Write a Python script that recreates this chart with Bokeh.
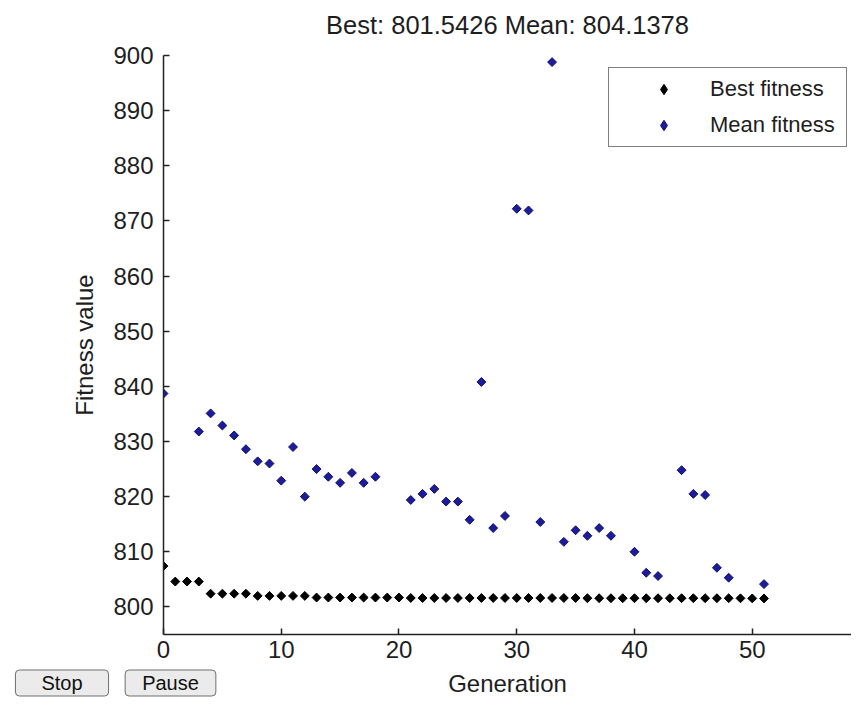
from bokeh.plotting import figure
from bokeh.layouts import column
from bokeh.models import Range1d, FixedTicker, Label, Legend, LegendItem, ColumnDataSource
from bokeh.embed import file_html
from bokeh.resources import INLINE
import numpy as np

nan = float("nan")

generation = list(range(52))

best_fitness = [807.4, 804.6, 804.6, 804.6, 802.4, 802.4, 802.4, 802.4,
                802.0, 802.0, 802.0, 802.0, 802.0,
                801.7, 801.7, 801.7, 801.7, 801.7, 801.7, 801.7, 801.7,
                801.62, 801.62, 801.62, 801.62, 801.62, 801.62, 801.62, 801.62,
                801.62, 801.62, 801.62, 801.62, 801.62, 801.62, 801.62,
                801.58, 801.58, 801.58, 801.58, 801.58, 801.58, 801.58, 801.58,
                801.58, 801.58, 801.58, 801.58, 801.58, 801.56, 801.55, 801.5426]

mean_fitness = [838.7, nan, nan, 831.8, 835.1, 832.9, 831.1, 828.6, 826.4, 826.0,
                822.9, 829.0, 820.0, 825.0, 823.6, 822.5, 824.3, 822.5, 823.6, nan,
                nan, 819.4, 820.5, 821.4, 819.1, 819.1, 815.8, 840.8, 814.3, 816.5,
                872.2, 871.9, 815.4, 898.8, 811.8, 813.9, 812.9, 814.3, 812.9, nan,
                810.0, 806.2, 805.6, nan, 824.8, 820.5, 820.3, 807.1, 805.3, nan,
                nan, 804.1378]

y_ticks = [800, 810, 820, 830, 840, 850, 860, 870, 880, 890, 900]
x_ticks = [0, 10, 20, 30, 40, 50, 60]
series_labels = ["Best fitness", "Mean fitness"]
button_labels = ["Stop", "Pause"]
x_title = "Generation"
y_title = "Fitness value"
chart_title = "Best: %.4f Mean: %.4f" % (best_fitness[-1], mean_fitness[-1])

FONT = "Liberation Sans"
BEST_COLOR = "black"
MEAN_FILL = "#1c1c9a"
MEAN_LINE = "#10106e"
TEXT = "#1e1e1e"

W = 851
H_TOP = 40
H_MAIN = 628
H_STRIP = 29
FRAME_LEFT = 163
FRAME_TOP = 55 - H_TOP          # inside the main figure
FRAME_BOTTOM = 634 - H_TOP      # inside the main figure


def plain_strip(height):
    s = figure(width=W, height=height, output_backend="svg", toolbar_location=None,
               x_range=Range1d(0, W), y_range=Range1d(0, height),
               x_axis_location=None, y_axis_location=None, min_border=0)
    s.outline_line_color = None
    s.grid.visible = False
    s.background_fill_color = "white"
    s.border_fill_color = "white"
    aligned = True
    if "frame_align" in s.properties():
        s.frame_align = False
        aligned = False
    return s, aligned


# ---- title strip
top, top_aligned = plain_strip(H_TOP)
tx = (FRAME_LEFT + W) / 2 - (FRAME_LEFT if top_aligned else 0)
top.add_layout(Label(x=tx, y=H_TOP - 24.5, x_units="screen", y_units="screen",
                     text=chart_title, text_align="center", text_baseline="middle",
                     text_font=FONT, text_font_size="25.5px", text_color=TEXT))

# ---- main axes
p = figure(width=W, height=H_MAIN, output_backend="svg", toolbar_location=None,
           x_range=Range1d(0, 58.43), y_range=Range1d(795, 900),
           min_border_left=FRAME_LEFT, min_border_right=0, min_border_top=FRAME_TOP,
           min_border_bottom=H_MAIN - FRAME_BOTTOM)
p.background_fill_color = "white"
p.border_fill_color = "white"
p.outline_line_color = None
p.xgrid.grid_line_color = None
p.ygrid.grid_line_color = None

src = ColumnDataSource(dict(g=generation, best=best_fitness, mean=mean_fitness))

p.scatter("g", "best", source=src, marker="square", angle=np.pi / 4, size=6.3,
          fill_color=BEST_COLOR, line_color=BEST_COLOR)
p.scatter("g", "mean", source=src, marker="square", angle=np.pi / 4, size=6.3,
          fill_color=MEAN_FILL, line_color=MEAN_LINE)

# legend swatches (diamond markers, no visible data of their own)
swatch = ColumnDataSource(dict(g=[nan], v=[nan]))
l1 = p.scatter("g", "v", source=swatch, marker="diamond", size=10,
               fill_color=BEST_COLOR, line_color=BEST_COLOR)
l2 = p.scatter("g", "v", source=swatch, marker="diamond", size=10,
               fill_color=MEAN_FILL, line_color=MEAN_LINE)

for ax in (p.xaxis[0], p.yaxis[0]):
    ax.major_tick_in = 6
    ax.major_tick_out = 0
    ax.minor_tick_in = 0
    ax.minor_tick_out = 0
    ax.axis_line_color = "#222222"
    ax.axis_line_width = 1.5
    ax.major_tick_line_color = "#222222"
    ax.major_tick_line_width = 1.5
    ax.major_label_text_font = FONT
    ax.major_label_text_font_size = "24px"
    ax.major_label_text_color = TEXT
    ax.axis_label_text_font = FONT
    ax.axis_label_text_font_size = "24px"
    ax.axis_label_text_font_style = "normal"
    ax.axis_label_text_color = TEXT

p.xaxis.ticker = FixedTicker(ticks=x_ticks)
p.yaxis.ticker = FixedTicker(ticks=y_ticks)
p.yaxis.axis_label = y_title
p.xaxis.major_label_standoff = 6
p.yaxis.major_label_standoff = 10
p.yaxis.axis_label_standoff = 12

legend = Legend(items=[LegendItem(label=series_labels[0], renderers=[l1]),
                       LegendItem(label=series_labels[1], renderers=[l2])],
                location=(445, 487), margin=0, padding=8, spacing=10,
                glyph_width=93, glyph_height=26, label_height=26, label_width=128,
                label_standoff=0, border_line_color="black", border_line_width=1.5,
                background_fill_color="white", background_fill_alpha=1.0,
                label_text_font=FONT, label_text_font_size="22px",
                label_text_color=TEXT)
p.add_layout(legend)

# ---- strip under the axes: GUI buttons and the x-axis title
bottom, bottom_aligned = plain_strip(H_STRIP)
dx = FRAME_LEFT if bottom_aligned else 0
bottom.add_layout(Label(x=61.5 - dx, y=H_STRIP / 2, x_units="screen", y_units="screen",
                        text=button_labels[0], text_align="center", text_baseline="middle",
                        text_font=FONT, text_font_size="20px", text_color="#111111",
                        background_fill_color="#ebebeb", border_line_color="#6e6e6e",
                        border_line_width=1, padding=(26, 2), border_radius=4))
bottom.add_layout(Label(x=170 - dx, y=H_STRIP / 2, x_units="screen", y_units="screen",
                        text=button_labels[1], text_align="center", text_baseline="middle",
                        text_font=FONT, text_font_size="20px", text_color="#111111",
                        background_fill_color="#ebebeb", border_line_color="#6e6e6e",
                        border_line_width=1, padding=(17, 2), border_radius=4))
bottom.add_layout(Label(x=(FRAME_LEFT + W) / 2 - dx, y=H_STRIP / 2, x_units="screen", y_units="screen",
                        text=x_title, text_align="center", text_baseline="middle",
                        text_font=FONT, text_font_size="24px", text_color=TEXT))

layout = column(top, p, bottom, spacing=0)

open("out.html", "w").write(file_html(layout, INLINE))
